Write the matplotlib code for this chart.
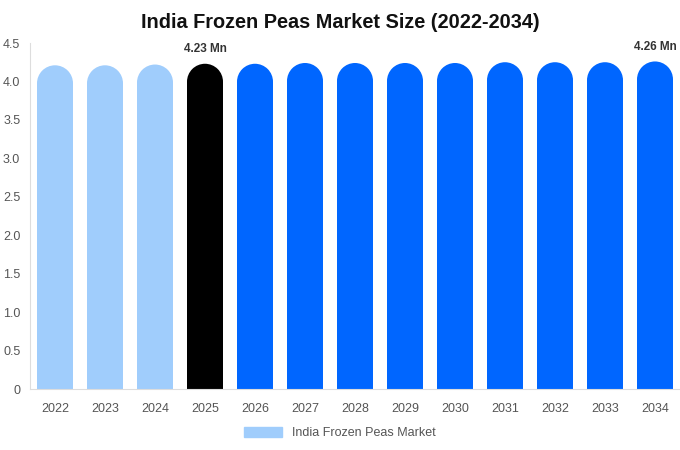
import matplotlib
matplotlib.use("Agg")
import matplotlib.pyplot as plt
from matplotlib.patches import Ellipse, Patch
import numpy as np

plt.rcParams['font.family'] = ['Liberation Sans', 'DejaVu Sans']

years = ['2022', '2023', '2024', '2025', '2026', '2027', '2028',
         '2029', '2030', '2031', '2032', '2033', '2034']
values = [4.21, 4.21, 4.22, 4.23, 4.23, 4.24, 4.24, 4.24, 4.24, 4.25, 4.25, 4.25, 4.26]
colors = ['#a0cdfc'] * 3 + ['#000000'] + ['#0066ff'] * 9
labels = {3: '4.23 Mn', 12: '4.26 Mn'}

fig = plt.figure(figsize=(6.8, 4.5), dpi=100)
ax = fig.add_axes([30 / 680, 61 / 450, 650 / 680, 346 / 450])

ymax = 4.5
x = np.arange(len(years))
bw = 0.72
# cap radius in data units (x uses 50 px per unit, y uses 346 px per 4.5)
rx = bw / 2
ry = (bw * 50 / 2) * ymax / 346

ax.bar(x, [v - ry for v in values], width=bw, color=colors, linewidth=0)
for xi, v, c in zip(x, values, colors):
    ax.add_patch(Ellipse((xi, v - ry), 2 * rx, 2 * ry, color=c, linewidth=0))

for i, txt in labels.items():
    ax.annotate(txt, (x[i], values[i]), xytext=(0, 6), textcoords='offset points',
                ha='center', va='bottom', fontsize=8.5, fontweight='bold', color='#333333')

ax.set_xlim(-0.5, len(years) - 0.5)
ax.set_ylim(0, ymax)
ax.set_xticks(x)
ax.set_xticklabels(years)
ax.set_yticks(np.arange(0, 4.51, 0.5))
ax.set_yticklabels(['0'] + [f'{t:.1f}' for t in np.arange(0.5, 4.51, 0.5)])
ax.tick_params(axis='both', length=0, labelsize=9, colors='#555555')
ax.tick_params(axis='x', pad=10)
ax.tick_params(axis='y', pad=7)
for s in ['top', 'right']:
    ax.spines[s].set_visible(False)
ax.spines['left'].set_color('#dddddd')
ax.spines['bottom'].set_color('#dddddd')

fig.suptitle('India Frozen Peas Market Size (2022-2034)', x=0.5, y=0.97,
             fontsize=14.3, fontweight='bold', color='#111111')

fig.legend(handles=[Patch(color='#a0cdfc', label='India Frozen Peas Market')],
           loc='center', bbox_to_anchor=(0.5, 17 / 450), frameon=False,
           fontsize=9, labelcolor='#555555', handlelength=3.0, handleheight=0.9)

fig.savefig('out.png', dpi=100)
